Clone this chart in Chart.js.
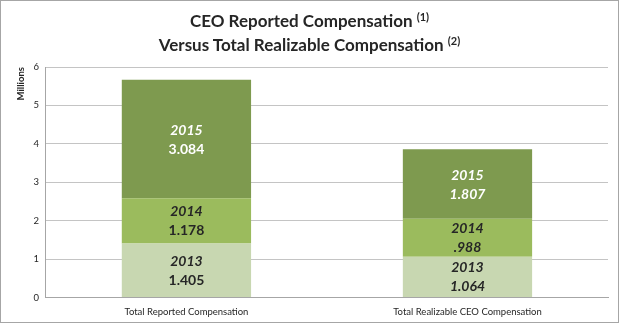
<!DOCTYPE html>
<html>
<head>
<meta charset="utf-8">
<script src="https://cdn.jsdelivr.net/npm/chart.js@4"></script>
<style>
  html, body { margin: 0; padding: 0; background: #fff; }
  #wrap { position: relative; width: 619px; height: 323px; box-sizing: border-box; border: 1px solid #a6a6a6; overflow: hidden; }
  #title { position: absolute; left: 0; right: 0; top: 8px; text-align: center; font-family: Lato, "Open Sans", sans-serif; font-weight: bold; font-size: 17px; line-height: 24px; color: #262626; }
  #title sup { font-size: 11px; vertical-align: 6px; line-height: 0; }
  #chart { position: absolute; left: 0; top: 0; }
</style>
</head>
<body>
<div id="wrap">
  <canvas id="chart" width="617" height="321"></canvas>
  <div id="title">CEO Reported Compensation <sup>(1)</sup><br>Versus Total Realizable Compensation <sup>(2)</sup></div>
</div>
<script>
const categories = ['Total Reported Compensation', 'Total Realizable CEO Compensation'];
const years = ['2013', '2014', '2015'];
const values2013 = [1.405, 1.064];
const values2014 = [1.178, 0.988];
const values2015 = [3.084, 1.807];
const valueLabels = [['1.405', '1.064'], ['1.178', '.988'], ['3.084', '1.807']];
const yTicks = [0, 1, 2, 3, 4, 5, 6];

const colors = ['#c8d7b1', '#9bbb5d', '#7e9a4f'];
const textColors = ['#262626', '#262626', '#ffffff'];

// labels inside each segment: year (italic) and value
const segmentLabels = {
  id: 'segmentLabels',
  afterDatasetsDraw(chart){
    const ctx = chart.ctx;
    ctx.save();
    ctx.textAlign = 'center';
    ctx.textBaseline = 'middle';
    chart.data.datasets.forEach((ds, di) => {
      chart.getDatasetMeta(di).data.forEach((bar, i) => {
        const mid = (bar.y + bar.base) / 2;
        ctx.fillStyle = textColors[di];
        ctx.font = 'italic bold 14px Lato, "Open Sans", sans-serif';
        ctx.fillText(years[di], bar.x, mid - 9);
        ctx.font = (i === 1 ? 'italic ' : '') + 'bold 14px Lato, "Open Sans", sans-serif';
        ctx.fillText(valueLabels[di][i], bar.x, mid + 10);
      });
    });
    ctx.restore();
  }
};

new Chart(document.getElementById('chart').getContext('2d'), {
  type: 'bar',
  data: {
    labels: categories,
    datasets: [
      { label: years[0], data: values2013, backgroundColor: colors[0] },
      { label: years[1], data: values2014, backgroundColor: colors[1] },
      { label: years[2], data: values2015, backgroundColor: colors[2] }
    ]
  },
  options: {
    responsive: false,
    animation: false,
    layout: { padding: { top: 66, right: 10, bottom: 3, left: 14 } },
    datasets: { bar: { categoryPercentage: 1, barPercentage: 0.46 } },
    plugins: {
      legend: { display: false },
      tooltip: { enabled: false },
      title: { display: false }
    },
    scales: {
      x: {
        stacked: true,
        grid: { display: false },
        border: { color: '#a6a6a6' },
        ticks: { color: '#262626', font: { family: 'Lato', size: 9.5 }, padding: 1 }
      },
      y: {
        stacked: true,
        min: 0,
        max: 6,
        afterBuildTicks(scale){ scale.ticks = yTicks.map(v => ({ value: v })); },
        grid: { color: '#c4c4c4', drawTicks: false },
        border: { color: '#a6a6a6' },
        ticks: { color: '#262626', font: { family: 'Lato', size: 9.5 }, padding: 7 },
        title: { display: true, text: 'Millions', align: 'end', color: '#262626', font: { family: 'Lato', size: 9.5, weight: 'bold' }, padding: 0 }
      }
    }
  },
  plugins: [segmentLabels]
});
</script>
</body>
</html>
